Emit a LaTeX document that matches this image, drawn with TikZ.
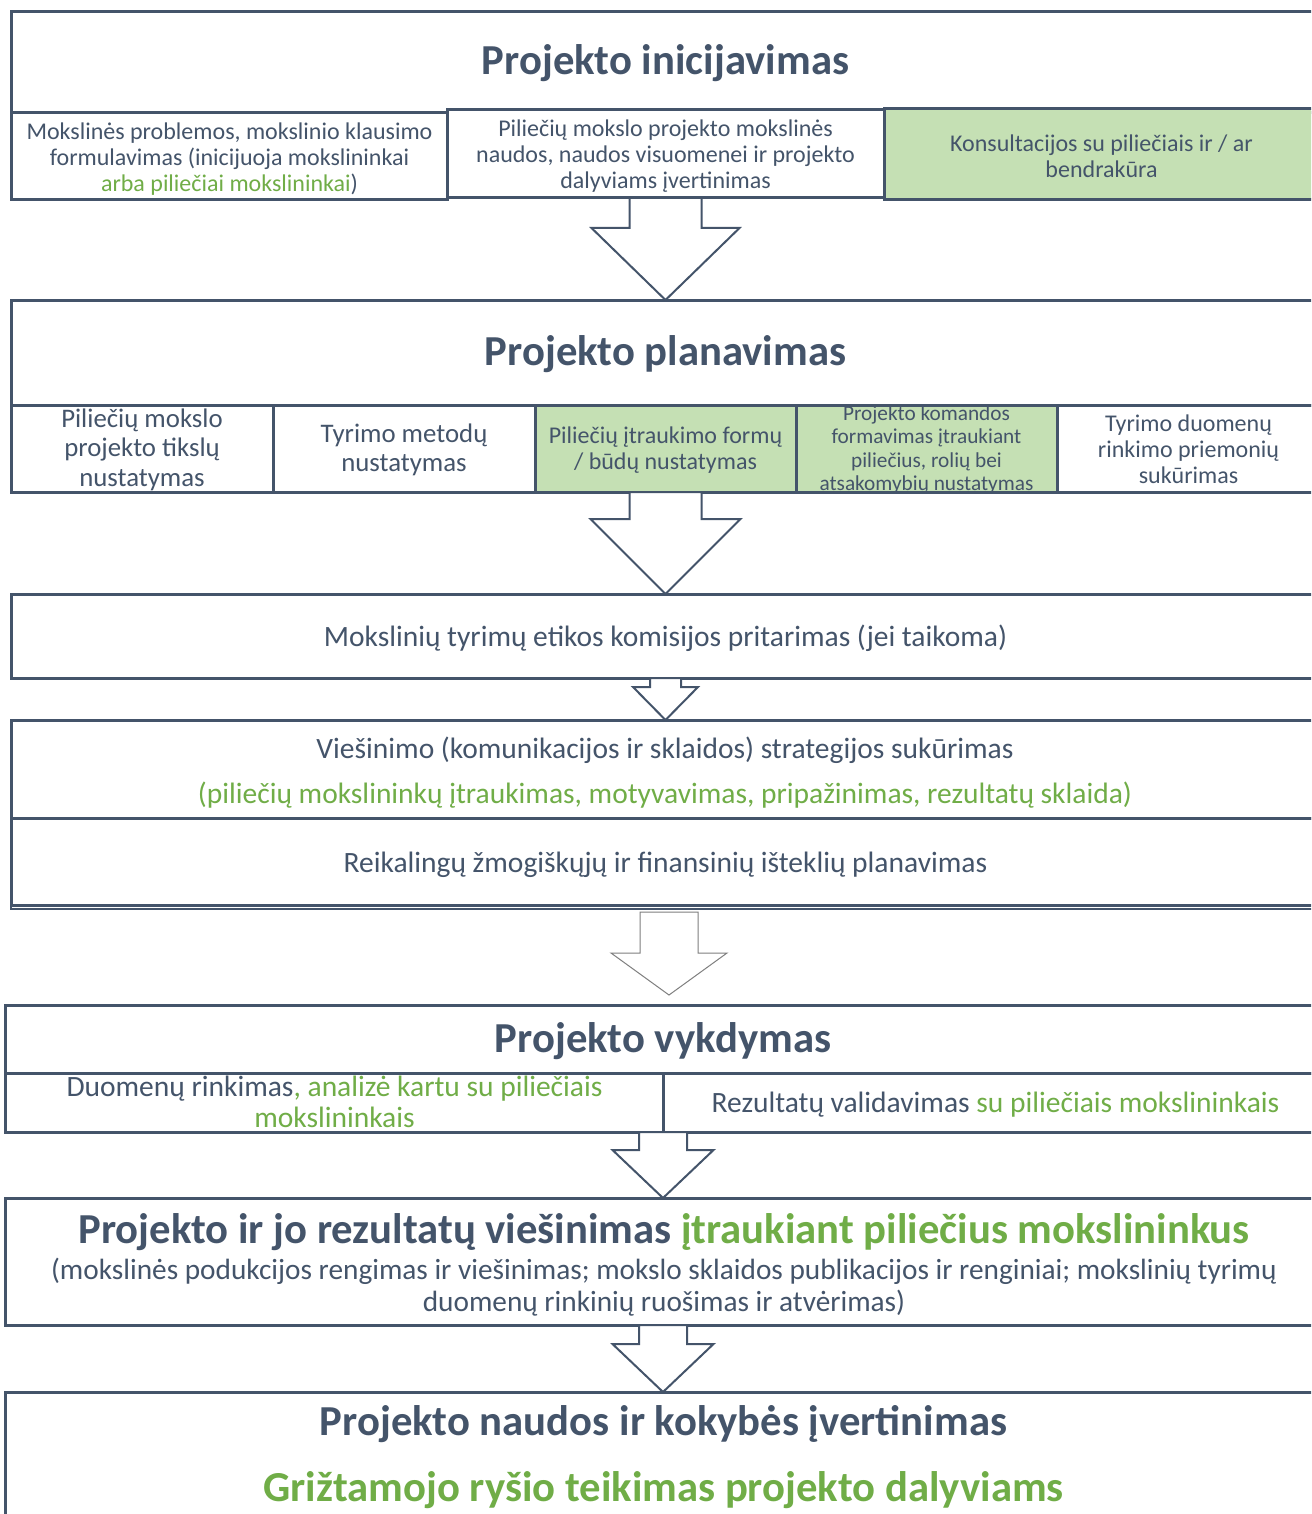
\documentclass[tikz,border=0pt]{standalone}
\usepackage{fontspec}
\setmainfont{Carlito}
\usetikzlibrary{calc}
\definecolor{dk}{HTML}{44546A}
\definecolor{gr}{HTML}{70AD47}
\definecolor{gf}{HTML}{C5E0B4}
\definecolor{ag}{HTML}{7F7F7F}
\newcommand\blkarrow[6][]{%
  \draw[blockarrow,#1] let \p1=(#2), \p2=(#3) in
    (\x2-#4pt,\y1) -- (\x2-#4pt,\y2+#6pt) -- (\x2-#5pt,\y2+#6pt) -- (\x2,\y2)
    -- (\x2+#5pt,\y2+#6pt) -- (\x2+#4pt,\y2+#6pt) -- (\x2+#4pt,\y1) -- cycle;}
\begin{document}
\begin{tikzpicture}[x=1pt,y=-1pt,
  frame/.style={draw=dk, line width=3pt, fill=white, inner sep=0pt, outer sep=0pt, anchor=north west},
  gframe/.style={frame, fill=gf},
  ttl/.style={font=\fontsize{42.7}{48}\selectfont\bfseries, text=dk, anchor=base, inner sep=0pt},
  sm/.style={font=\fontsize{24}{26}\selectfont, text=dk, align=center, inner sep=0pt},
  smk/.style={font=\fontsize{21.3}{23.5}\selectfont, text=dk, align=center, inner sep=0pt},
  md/.style={font=\fontsize{26.8}{29.5}\selectfont, text=dk, align=center, inner sep=0pt},
  lg/.style={font=\fontsize{29.5}{31}\selectfont, text=dk, align=center, inner sep=0pt},
  blockarrow/.style={draw=dk, line width=2pt, fill=white, line join=miter},
  thinarrow/.style={draw=ag, line width=1pt, fill=white}]
\clip (0,0) rectangle (1311,1514);
\fill[white] (0,0) rectangle (1311,1514);

% ---------- Projekto inicijavimas
\node[frame, minimum width=1309, minimum height=101] (b1) at (11,12) {};
\node[ttl] (t1) at (665.5,75) {Projekto inicijavimas};
\node[gframe, minimum width=435, minimum height=91] (b1c) at (884,109) {};
\node[frame, minimum width=436, minimum height=87] (b1a) at (11,113) {};
\node[frame, minimum width=437, minimum height=88] (b1b) at (447,110) {};
\node[sm] (t1a) at (229.5,159) {Mokslinės problemos, mokslinio klausimo\\formulavimas (inicijuoja mokslininkai\\{\color{gr}arba piliečiai mokslininkai})};
\node[sm] (t1b) at (665.5,156.5) {Piliečių mokslo projekto mokslinės\\naudos, naudos visuomenei ir projekto\\dalyviams įvertinimas};
\node[sm] (t1c) at (1101.5,156) {Konsultacijos su piliečiais ir / ar\\bendrakūra};

% ---------- Projekto planavimas
\node[frame, minimum width=1309, minimum height=105] (b2) at (11,300) {};
\node[ttl] (t2) at (665.5,365) {Projekto planavimas};
\node[frame, minimum width=262, minimum height=87] (b2a) at (11,405) {};
\node[frame, minimum width=262, minimum height=87] (b2b) at (273,405) {};
\node[gframe, minimum width=261, minimum height=87] (b2c) at (535,405) {};
\node[gframe, minimum width=261, minimum height=87] (b2d) at (796,405) {};
\node[frame, minimum width=263, minimum height=87] (b2e) at (1057,405) {};
\node[md] (t2a) at (142,449.5) {Piliečių mokslo\\projekto tikslų\\nustatymas};
\node[md] (t2b) at (404,450) {Tyrimo metodų\\nustatymas};
\node[sm] (t2c) at (665.5,450) {Piliečių įtraukimo formų\\/ būdų nustatymas};
\begin{scope}
  \clip (b2d.north west) rectangle (b2d.south east);
  \node[smk] (t2d) at (926.5,450) {Projekto komandos\\formavimas įtraukiant\\piliečius, rolių bei\\atsakomybių nustatymas};
\end{scope}
\draw[dk, line width=3pt] (b2d.south west) -- (b2d.south east);
\node[sm] (t2e) at (1188.5,449.5) {Tyrimo duomenų\\rinkimo priemonių\\sukūrimas};

% ---------- etikos
\node[frame, minimum width=1309, minimum height=84] (b3) at (11,594) {};
\node[lg] (t3) at (665.5,638) {Mokslinių tyrimų etikos komisijos pritarimas (jei taikoma)};

% ---------- viesinimo strategija / istekliai
\node[frame, minimum width=1309, minimum height=98] (b4) at (11,720) {};
\node[lg] (t4a) at (665,750) {Viešinimo (komunikacijos ir sklaidos) strategijos sukūrimas};
\node[lg, text=gr] (t4b) at (665,795) {(piliečių mokslininkų įtraukimas, motyvavimas, pripažinimas, rezultatų sklaida)};
\node[frame, minimum width=1309, minimum height=87] (b5) at (11,818) {};
\node[lg] (t5) at (665.5,864.5) {Reikalingų žmogiškųjų ir finansinių išteklių planavimas};
\coordinate (b5low) at ($(b5.south west)+(0,4)$);
\draw[dk, line width=2.5pt] (b5.south west) -- (b5low) -- ++(1309,0);

% ---------- Projekto vykdymas
\node[frame, minimum width=1316, minimum height=68] (b6) at (5,1005) {};
\node[ttl] (t6) at (663,1052) {Projekto vykdymas};
\node[frame, minimum width=658, minimum height=59] (b6a) at (5,1073) {};
\node[frame, minimum width=658, minimum height=59] (b6b) at (663,1073) {};
\node[lg] (t6a) at (334.5,1102) {Duomenų rinkimas{\color{gr}, analizė kartu su piliečiais}\\{\color{gr}mokslininkais}};
\node[lg] (t6b) at (995.5,1104.5) {Rezultatų validavimas {\color{gr}su piliečiais mokslininkais}};

% ---------- viesinimas
\node[frame, minimum width=1316, minimum height=127] (b7) at (5,1198) {};
\node[ttl] (t7) at (664,1243) {Projekto ir jo rezultatų viešinimas {\color{gr}įtraukiant piliečius mokslininkus}};
\node[lg, font=\fontsize{29.3}{32}\selectfont] (t7b) at (664,1287) {(mokslinės podukcijos rengimas ir viešinimas; mokslo sklaidos publikacijos ir renginiai; mokslinių tyrimų\\duomenų rinkinių ruošimas ir atvėrimas)};

% ---------- naudos ir kokybes
\node[frame, minimum width=1316, minimum height=140] (b8) at (5,1392) {};
\node[ttl] (t8) at (663.5,1435) {Projekto naudos ir kokybės įvertinimas};
\node[ttl, text=gr] (t8b) at (663.5,1501) {Grižtamojo ryšio teikimas projekto dalyviams};

% ---------- block arrows
\blkarrow{b1b.south}{b2.north}{36}{74}{72}
\blkarrow{b2c.south}{b3.north}{36}{75}{75}
\blkarrow{b3.south}{b4.north}{15.5}{32.5}{33}
\coordinate (a4top) at ($(b5.south)+(0,7)$);
\coordinate (a4tip) at ($(b6.north)+(6,-10)$);
\blkarrow[thinarrow]{a4top}{a4tip}{29}{58}{42}
\blkarrow{b6a.south}{b7.north}{24}{50.5}{48}
\blkarrow{b7.south}{b8.north}{24}{50.5}{48}
\end{tikzpicture}
\end{document}
